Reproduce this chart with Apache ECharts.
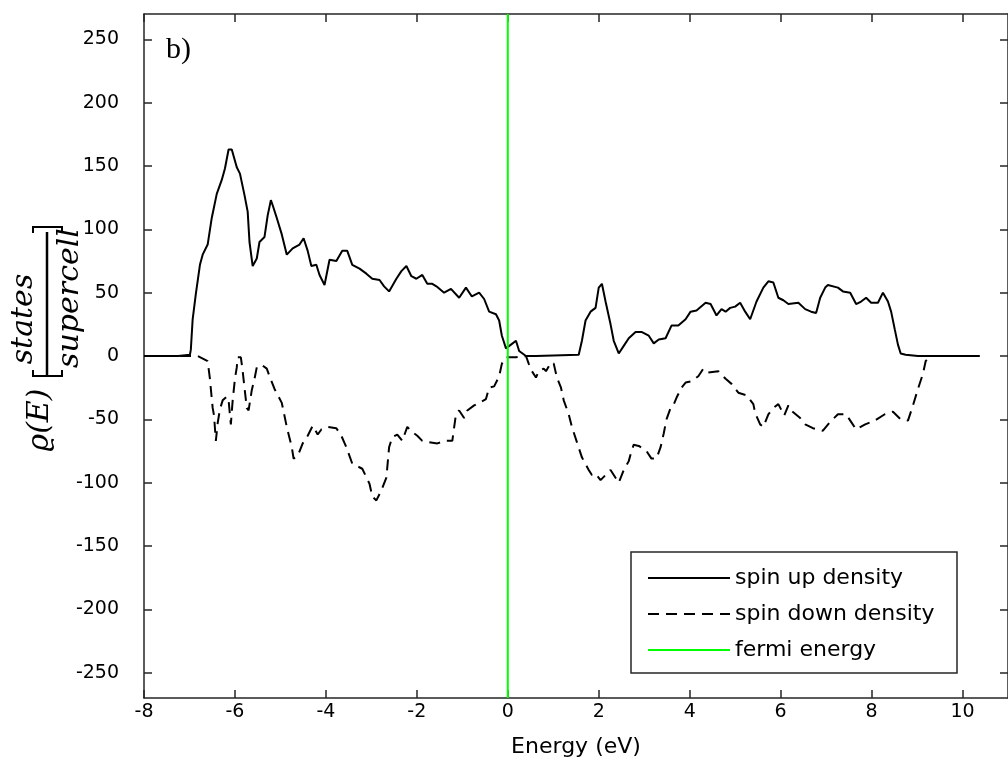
<!DOCTYPE html>
<html lang="en">
<head>
    <meta charset="UTF-8">
    <title>dos</title>
    <style>
        html, body { margin: 0; padding: 0; background: #fff; }
        #div_dos { width: 1008px; height: 772px; }
    </style>
</head>
<body>
    <div id="div_dos"></div>
</body>
<script src="https://cdn.jsdelivr.net/npm/echarts@6/dist/echarts.min.js"></script>
<script type="text/javascript">
    // 刻度
    var xTicks = [-8, -6, -4, -2, 0, 2, 4, 6, 8, 10];
    var yTicks = [-250, -200, -150, -100, -50, 0, 50, 100, 150, 200, 250];
    var xRange = [-8, 11];
    var yRange = [-270, 270];

    // spin up
    var energyUp = [-8.00, -7.25, -7.21, -6.99, -6.97, -6.93, -6.86, -6.77, -6.71, -6.60,
        -6.51, -6.40, -6.29, -6.22, -6.14, -6.07, -5.96, -5.89, -5.79, -5.72,
        -5.68, -5.61, -5.52, -5.46, -5.35, -5.28, -5.21, -5.17, -5.08, -4.97,
        -4.86, -4.73, -4.58, -4.49, -4.40, -4.32, -4.21, -4.14, -4.03, -3.92,
        -3.77, -3.64, -3.53, -3.42, -3.26, -3.11, -2.98, -2.82, -2.72, -2.61,
        -2.45, -2.34, -2.23, -2.12, -2.01, -1.88, -1.77, -1.66, -1.57, -1.40,
        -1.25, -1.07, -0.92, -0.79, -0.63, -0.52, -0.41, -0.26, -0.19, -0.13,
        -0.04, 0.07, 0.18, 0.25, 0.40, 0.62, 1.56, 1.63, 1.71, 1.82,
        1.93, 2.00, 2.07, 2.15, 2.26, 2.33, 2.44, 2.55, 2.66, 2.81,
        2.94, 3.10, 3.21, 3.32, 3.47, 3.60, 3.75, 3.91, 4.02, 4.15,
        4.35, 4.46, 4.59, 4.70, 4.79, 4.89, 5.00, 5.11, 5.22, 5.33,
        5.47, 5.62, 5.73, 5.84, 5.95, 6.06, 6.17, 6.39, 6.54, 6.67,
        6.78, 6.87, 6.98, 7.04, 7.26, 7.37, 7.53, 7.66, 7.77, 7.88,
        7.99, 8.14, 8.25, 8.36, 8.43, 8.51, 8.58, 8.64, 8.75, 9.02,
        10.38];
    var densityUp = [0, 0, 1, 1, 5, 29, 49, 72, 80, 88,
        109, 128, 139, 148, 163, 163, 149, 144, 127, 114,
        90, 71, 77, 90, 94, 111, 123, 119, 109, 96,
        80, 85, 88, 93, 83, 71, 72, 64, 56, 76,
        75, 83, 83, 72, 69, 65, 61, 60, 55, 51,
        61, 67, 71, 63, 61, 64, 57, 57, 55, 50,
        53, 46, 54, 47, 50, 45, 35, 33, 28, 16,
        6, 9, 12, 4, 0, 0, 1, 12, 28, 35,
        38, 54, 57, 43, 25, 12, 2, 8, 14, 19,
        19, 16, 10, 13, 14, 24, 24, 29, 35, 36,
        42, 41, 32, 37, 35, 38, 39, 42, 35, 29,
        43, 54, 59, 58, 46, 44, 41, 42, 37, 35,
        34, 46, 54, 56, 54, 51, 50, 41, 43, 46,
        42, 42, 50, 43, 35, 21, 9, 2, 1, 0,
        0];

    // spin down
    var energyDown = [-8.00,
        -6.82, -6.60, -6.55, -6.53, -6.49, -6.46, -6.42, -6.38, -6.33, -6.27,
        -6.18, -6.14, -6.09, -6.05, -6.00, -5.96, -5.94, -5.87, -5.83, -5.79,
        -5.74, -5.70, -5.63, -5.57, -5.52, -5.41, -5.30, -5.24, -5.13, -4.97,
        -4.86, -4.75, -4.71, -4.62, -4.51, -4.40, -4.29, -4.18, -4.10, -3.96,
        -3.77, -3.66, -3.55, -3.42, -3.20, -3.04, -2.98, -2.89, -2.78, -2.67,
        -2.61, -2.54, -2.43, -2.32, -2.21, -2.10, -1.99, -1.88, -1.73, -1.55,
        -1.38, -1.22, -1.14, -1.07, -0.96, -0.89, -0.74, -0.63, -0.48, -0.41,
        -0.30, -0.19, -0.13, -0.04, 0.18, 0.40, 0.46, 0.53, 0.62, 0.68,
        0.79, 0.84, 0.95, 1.01, 1.08, 1.17, 1.23, 1.34, 1.41, 1.52,
        1.63, 1.78, 1.85, 1.93, 2.04, 2.15, 2.26, 2.44, 2.55, 2.66,
        2.72, 2.77, 2.88, 3.05, 3.16, 3.27, 3.36, 3.43, 3.49, 3.58,
        3.64, 3.71, 3.82, 3.91, 4.04, 4.19, 4.30, 4.41, 4.63, 4.79,
        4.92, 5.07, 5.25, 5.40, 5.44, 5.55, 5.62, 5.73, 5.84, 5.95,
        6.08, 6.17, 6.23, 6.43, 6.54, 6.71, 6.93, 7.09, 7.26, 7.44,
        7.55, 7.66, 7.86, 8.07, 8.29, 8.47, 8.64, 8.80, 8.91, 9.02,
        9.13, 9.19, 9.28];
    var densityDown = [0,
        0, -4, -18, -26, -41, -47, -67, -53, -42, -35,
        -32, -35, -54, -35, -18, -9, -1, -1, -12, -25,
        -41, -43, -27, -18, -9, -7, -10, -16, -26, -37,
        -56, -72, -81, -79, -69, -63, -55, -62, -58, -56,
        -57, -63, -72, -85, -89, -101, -111, -114, -106, -96,
        -72, -64, -62, -67, -56, -60, -63, -67, -68, -69,
        -67, -67, -46, -43, -49, -43, -39, -37, -34, -25,
        -24, -16, -6, -1, -1, 0, -6, -12, -17, -12,
        -10, -12, -5, -6, -17, -25, -35, -46, -56, -68,
        -80, -90, -94, -93, -98, -94, -90, -100, -90, -83,
        -75, -70, -71, -75, -81, -81, -72, -61, -50, -41,
        -39, -33, -25, -21, -20, -16, -10, -13, -12, -18,
        -22, -29, -31, -38, -45, -54, -56, -46, -41, -38,
        -47, -39, -43, -49, -54, -57, -59, -52, -46, -46,
        -52, -58, -54, -51, -46, -44, -50, -51, -39, -26,
        -14, -4, -1];

    // fermi 能级
    var fermiEnergy = 0;

    var legendNames = ['spin up density', 'spin down density', 'fermi energy'];

    window.onload = function () {
        dos();
    };

    function pairs(xs, ys) {
        return xs.map(function (x, i) { return [x, ys[i]]; });
    }

    function dos() {
        var axisColor = '#262626';
        var tickFont = {color: '#000', fontFamily: 'DejaVu Sans', fontSize: 19};

        var option = {
            animation: false,
            backgroundColor: '#fff',
            grid: {left: 144, top: 14, width: 867, height: 684},
            legend: {
                orient: 'vertical',
                left: 647,
                top: 567,
                padding: 0,
                itemGap: 14,
                itemWidth: 82,
                itemHeight: 14,
                data: legendNames,
                itemStyle: {opacity: 0},
                textStyle: {color: '#000', fontFamily: 'DejaVu Sans', fontSize: 22}
            },
            xAxis: [{
                type: 'value', min: xRange[0], max: xRange[1],
                name: 'Energy (eV)', nameLocation: 'middle', nameGap: 38,
                nameTextStyle: {color: '#000', fontFamily: 'DejaVu Sans', fontSize: 22},
                axisLine: {show: true, onZero: false, lineStyle: {color: axisColor, width: 1.5}},
                axisTick: {inside: true, length: 8, customValues: xTicks, lineStyle: {color: axisColor, width: 1.5}},
                axisLabel: Object.assign({margin: 5, customValues: xTicks}, tickFont),
                splitLine: {show: false}
            }, {
                type: 'value', min: xRange[0], max: xRange[1], position: 'top',
                axisLine: {show: true, onZero: false, lineStyle: {color: axisColor, width: 1.5}},
                axisTick: {inside: true, length: 8, customValues: xTicks, lineStyle: {color: axisColor, width: 1.5}},
                axisLabel: {show: false},
                splitLine: {show: false}
            }],
            yAxis: [{
                type: 'value', min: yRange[0], max: yRange[1],
                axisLine: {show: true, onZero: false, lineStyle: {color: axisColor, width: 1.5}},
                axisTick: {inside: true, length: 8, customValues: yTicks, lineStyle: {color: axisColor, width: 1.5}},
                axisLabel: Object.assign({margin: 25, customValues: yTicks}, tickFont),
                splitLine: {show: false}
            }, {
                type: 'value', min: yRange[0], max: yRange[1], position: 'right',
                axisLine: {show: true, onZero: false, lineStyle: {color: axisColor, width: 1.5}},
                axisTick: {inside: true, length: 8, customValues: yTicks, lineStyle: {color: axisColor, width: 1.5}},
                axisLabel: {show: false},
                splitLine: {show: false}
            }],
            series: [{
                name: legendNames[0], type: 'line', showSymbol: false, symbol: 'none',
                data: pairs(energyUp, densityUp),
                lineStyle: {color: '#000', width: 2},
                itemStyle: {color: '#000', opacity: 0}
            }, {
                name: legendNames[1], type: 'line', showSymbol: false, symbol: 'none',
                data: pairs(energyDown, densityDown),
                lineStyle: {color: '#000', width: 2, type: [11, 7]},
                itemStyle: {color: '#000', opacity: 0}
            }, {
                name: legendNames[2], type: 'line', showSymbol: false, symbol: 'none',
                data: [[fermiEnergy, yRange[0]], [fermiEnergy, yRange[1]]],
                lineStyle: {color: '#00ff00', width: 2},
                itemStyle: {color: '#00ff00', opacity: 0}
            }],
            graphic: [
                // 图例边框
                {type: 'rect', z: 0, shape: {x: 631, y: 552, width: 326, height: 121},
                    style: {fill: '#fff', stroke: axisColor, lineWidth: 1.5}},
                // b)
                {type: 'text', x: 166, y: 50,
                    style: {text: 'b)', fill: '#000', font: '30px "Liberation Serif"', verticalAlign: 'middle'}},
                // y轴标题 ρ(E) [states/supercell]
                {type: 'text', x: 40, y: 420, rotation: Math.PI / 2,
                    style: {text: '\u03f1(E)', fill: '#000', font: 'italic 30px "DejaVu Serif"', align: 'center', verticalAlign: 'middle'}},
                {type: 'text', x: 24, y: 319, rotation: Math.PI / 2,
                    style: {text: 'states', fill: '#000', font: 'italic 30px "DejaVu Serif"', align: 'center', verticalAlign: 'middle'}},
                {type: 'text', x: 70, y: 298, rotation: Math.PI / 2,
                    style: {text: 'supercell', fill: '#000', font: 'italic 30px "DejaVu Serif"', align: 'center', verticalAlign: 'middle'}},
                {type: 'line', shape: {x1: 47, y1: 232, x2: 47, y2: 375}, style: {stroke: '#000', lineWidth: 2.5}},
                {type: 'polyline', shape: {points: [[33, 370], [33, 376], [62, 376], [62, 370]]}, style: {stroke: '#000', lineWidth: 2, fill: null}},
                {type: 'polyline', shape: {points: [[33, 233], [33, 227], [62, 227], [62, 233]]}, style: {stroke: '#000', lineWidth: 2, fill: null}}
            ]
        };
        var echart = echarts.init(document.getElementById('div_dos'));
        echart.setOption(option);
    }
</script>
</html>
